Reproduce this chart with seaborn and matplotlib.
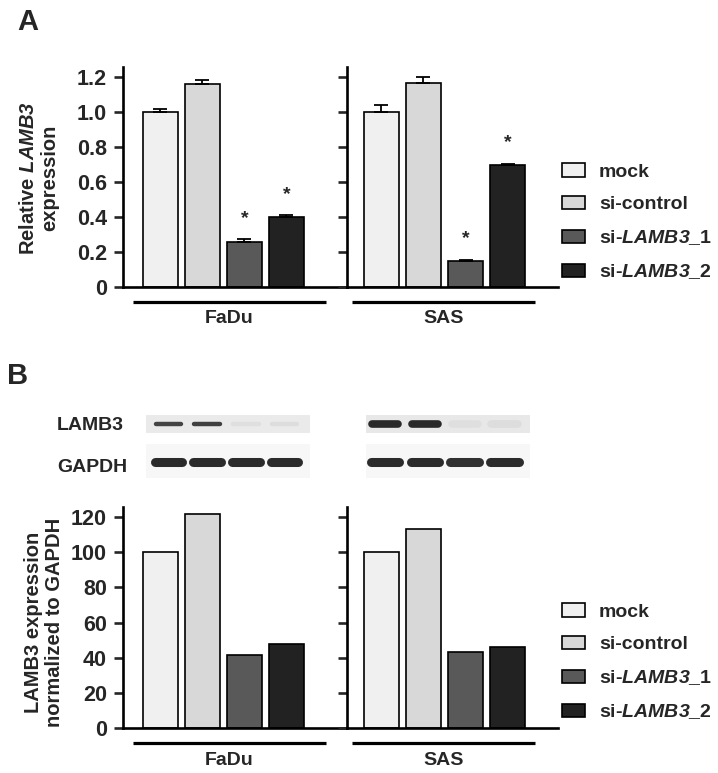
import numpy as np
import matplotlib
matplotlib.use('Agg')
import matplotlib.pyplot as plt
import seaborn as sns
import pandas as pd
from matplotlib.patches import Patch

# data
groups = ['mock', 'si-control', 'si-LAMB3_1', 'si-LAMB3_2']
legend_labels = ['mock', 'si-control', r'si-$\mathrm{LAMB3}$_1', r'si-$\mathrm{LAMB3}$_2']
colors = ['#f0f0f0', '#d8d8d8', '#595959', '#222222']

# panel A: qPCR, relative expression (mean and upper error)
fadu_rel = [1.00, 1.16, 0.26, 0.40]
fadu_err = [0.02, 0.025, 0.015, 0.012]
sas_rel = [1.00, 1.17, 0.15, 0.70]
sas_err = [0.04, 0.03, 0.006, 0.006]
fadu_sig = [False, False, True, True]
sas_sig = [False, False, True, True]

# panel B: densitometry, normalized to GAPDH
fadu_norm = [100, 122, 41.5, 47.5]
sas_norm = [100, 113, 43.5, 46]

# blot band intensities (0 = no band, 1 = black)
lamb3_fadu = [0.78, 0.80, 0.05, 0.06]
lamb3_sas = [0.90, 0.90, 0.04, 0.05]
gapdh_fadu = [0.90, 0.90, 0.90, 0.90]
gapdh_sas = [0.90, 0.90, 0.88, 0.90]

sns.set_style('white')
plt.rcParams['font.family'] = ['Liberation Sans', 'DejaVu Sans']
plt.rcParams['font.weight'] = 'bold'
# math text is only used for the italic gene names
plt.rcParams['mathtext.fontset'] = 'custom'
plt.rcParams['mathtext.it'] = 'Liberation Sans:italic:bold'
plt.rcParams['mathtext.rm'] = 'Liberation Sans:italic:bold'

W, H = 718, 773
fig = plt.figure(figsize=(W / 100, H / 100), dpi=100)


def box(x0, y0, x1, y1):
    # pixel box (top-left origin) -> figure fraction rect
    return [x0 / W, 1 - y1 / H, (x1 - x0) / W, (y1 - y0) / H]


def bar_panel(ax, values, xlim, ylim, yticks, ticklabels, cell, line_span,
              err=None, sig=None):
    df = pd.DataFrame({'group': groups, 'value': values})
    sns.barplot(data=df, x='group', y='value', hue='group', order=groups,
                hue_order=groups, palette=colors, edgecolor='black',
                linewidth=1.2, width=0.84, legend=False, ax=ax, errorbar=None)
    if err is not None:
        ax.errorbar(range(len(values)), values, yerr=[np.zeros(len(err)), err],
                    fmt='none', ecolor='black', elinewidth=1.3, capsize=5,
                    capthick=1.3, zorder=1)
        for i, s in enumerate(sig):
            if s:
                ax.text(i, values[i] + err[i] + 0.07, '*', ha='center',
                        va='bottom', fontsize=14, fontweight='bold')
    ax.set_xlim(*xlim)
    ax.set_ylim(*ylim)
    ax.set_yticks(yticks)
    ax.set_yticklabels(ticklabels)
    ax.set_xticks([])
    ax.set_xlabel('')
    ax.set_ylabel('')
    for side in ['top', 'right']:
        ax.spines[side].set_visible(False)
    for side in ['left', 'bottom']:
        ax.spines[side].set_linewidth(1.9)
        ax.spines[side].set_color('black')
    ax.tick_params(axis='y', direction='out', length=6.5, width=1.9,
                   pad=5, labelsize=15.5, left=True)
    ax.patch.set_alpha(0)
    # cell line bar and name under the group
    tr = ax.get_xaxis_transform()
    ax.plot(line_span, [-0.068, -0.068], color='black', lw=2.3,
            transform=tr, clip_on=False, solid_capstyle='butt')
    ax.text(np.mean(line_span), -0.145, cell, transform=tr, ha='center',
            va='center', fontsize=14, fontweight='bold')


# ---- panel A ----
ticksA = [0, 0.2, 0.4, 0.6, 0.8, 1.0, 1.2]
labelsA = ['0', '0.2', '0.4', '0.6', '0.8', '1.0', '1.2']
axA1 = fig.add_axes(box(123, 67, 347, 287))
axA2 = fig.add_axes(box(347, 67, 558, 287))
bar_panel(axA1, fadu_rel, (-0.89, 4.44), (0, 1.26), ticksA, labelsA, 'FaDu',
          (-0.66, 3.94), fadu_err, fadu_sig)
bar_panel(axA2, sas_rel, (-0.82, 4.2), (0, 1.26), ticksA, [''] * 7, 'SAS',
          (-0.70, 3.66), sas_err, sas_sig)

fig.text(39 / W, 1 - 178 / H, 'Relative $\\mathrm{LAMB3}$\nexpression',
         rotation=90, ha='center', va='center', fontsize=14.5,
         fontweight='bold', multialignment='center')
fig.text(17 / W, 1 - 22 / H, 'A', fontsize=21, fontweight='bold',
         ha='left', va='center')

# ---- panel B ----
ticksB = [0, 20, 40, 60, 80, 100, 120]
labelsB = [str(t) for t in ticksB]
axB1 = fig.add_axes(box(123, 507, 347, 728))
axB2 = fig.add_axes(box(347, 507, 558, 728))
bar_panel(axB1, fadu_norm, (-0.89, 4.44), (0, 125.7), ticksB, labelsB, 'FaDu',
          (-0.66, 3.94))
bar_panel(axB2, sas_norm, (-0.82, 4.2), (0, 125.7), ticksB, [''] * 7, 'SAS',
          (-0.70, 3.66))

fig.text(44 / W, 1 - 622 / H, 'LAMB3 expression\nnormalized to GAPDH',
         rotation=90, ha='center', va='center', fontsize=14.5,
         fontweight='bold', multialignment='center', linespacing=1.15)
fig.text(7 / W, 1 - 376 / H, 'B', fontsize=21, fontweight='bold',
         ha='left', va='center')


# ---- western blots ----
def blot(ax, lamb3, gapdh, xlim, lamb3_lw, strip_color):
    ax.set_xlim(*xlim)
    ax.set_ylim(1.71, -0.38)
    ax.axis('off')
    ax.axhspan(-0.24, 0.24, color=strip_color, lw=0)
    ax.axhspan(0.52, 1.45, color='#f7f7f7', lw=0)
    for i, v in enumerate(lamb3):
        ax.plot([i - 0.33, i + 0.33], [0, 0], color='#151515', alpha=v,
                lw=lamb3_lw, solid_capstyle='round')
    for i, v in enumerate(gapdh):
        ax.plot([i - 0.36, i + 0.36], [1, 1], color='#151515', alpha=v,
                lw=6.5, solid_capstyle='round')


axW1 = fig.add_axes(box(146, 410, 310, 488))
blot(axW1, lamb3_fadu, gapdh_fadu, (-0.58, 3.66), 3.2, '#eaeaea')
axW2 = fig.add_axes(box(366, 410, 530, 488))
blot(axW2, lamb3_sas, gapdh_sas, (-0.48, 3.64), 5.5, '#e8e8e8')

fig.text(57 / W, 1 - 426 / H, 'LAMB3', fontsize=14, fontweight='bold',
         ha='left', va='center')
fig.text(57 / W, 1 - 468 / H, 'GAPDH', fontsize=14, fontweight='bold',
         ha='left', va='center')

# ---- legends ----
handles = [Patch(facecolor=c, edgecolor='black', linewidth=1.2) for c in colors]
for top in (163, 603):
    fig.legend(handles, legend_labels, loc='upper left',
               bbox_to_anchor=(562 / W, 1 - top / H), frameon=False,
               fontsize=14, handlelength=1.2, handleheight=0.7,
               handletextpad=0.7, labelspacing=0.78, borderpad=0,
               borderaxespad=0)

plt.savefig('out.png', dpi=100)
